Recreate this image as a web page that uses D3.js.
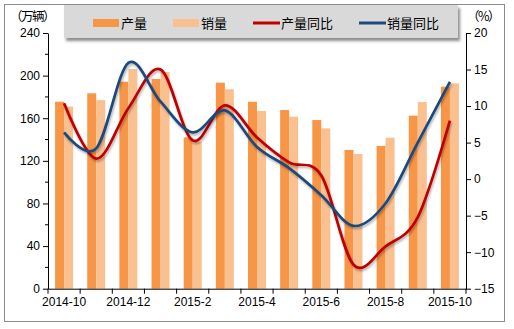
<!DOCTYPE html>
<html>
<head>
<meta charset="utf-8">
<script src="https://cdn.jsdelivr.net/npm/d3@7/dist/d3.min.js"></script>
<style>
  html, body { margin: 0; padding: 0; background: #fff; }
  svg { display: block; font-family: Arial, "Liberation Sans", "Noto Sans CJK SC", sans-serif; }
</style>
</head>
<body>
<svg id="chart" width="514" height="329"></svg>
<script>
// Monthly auto output / sales (10k units) and year-on-year growth (%)
const months = ["2014-10","2014-11","2014-12","2015-1","2015-2","2015-3","2015-4",
                "2015-5","2015-6","2015-7","2015-8","2015-9","2015-10"];
const output = [175.5, 183.4, 194.3, 196.8, 142, 193.4, 175.5, 167.7, 158.3, 130.2, 134, 162.4, 189.6];
const sales  = [171, 177, 206.2, 203.4, 138, 187.2, 166.8, 161.5, 150.5, 126.4, 141.7, 175.2, 192.8];
const outputYoY = [10.4, 2.8, 9.7, 15.0, 5.3, 10.1, 5.7, 2.3, 0.5, -11.7, -9.2, -5.2, 8.0];
const salesYoY  = [6.4, 4.2, 15.9, 10.6, 6.4, 9.4, 4.4, 1.5, -2.2, -6.4, -3.3, 5.0, 13.3];
const leftTicks = [0, 40, 80, 120, 160, 200, 240];
const rightTicks = [-15, -10, -5, 0, 5, 10, 15, 20];
const xLabels = ["2014-10","2014-12","2015-2","2015-4","2015-6","2015-8","2015-10"];

const svg = d3.select("#chart");
const m = { left: 48, right: 466, top: 33, bottom: 288.7 };

const defs = svg.append("defs");
defs.append("filter").attr("id", "lineShadow")
  .attr("x", "-10%").attr("y", "-10%").attr("width", "120%").attr("height", "130%")
  .append("feDropShadow")
  .attr("dx", 1).attr("dy", 2).attr("stdDeviation", 1.2)
  .attr("flood-color", "#000").attr("flood-opacity", 0.3);
defs.append("filter").attr("id", "boxShadow")
  .attr("x", "-5%").attr("y", "-20%").attr("width", "110%").attr("height", "160%")
  .append("feDropShadow")
  .attr("dx", 2).attr("dy", 3).attr("stdDeviation", 1.5)
  .attr("flood-color", "#000").attr("flood-opacity", 0.45);

// outer frame
svg.append("rect").attr("x", 4.5).attr("y", 4.5).attr("width", 500).attr("height", 317)
  .attr("fill", "#fff").attr("stroke", "#8c8c8c").attr("stroke-width", 1);

const x = d3.scaleBand().domain(months).range([m.left, m.right]);
const yL = d3.scaleLinear().domain([0, 240]).range([m.bottom, m.top]);
const yR = d3.scaleLinear().domain([-15, 20]).range([m.bottom, m.top]);

// bars
const bw = 9;
const g = svg.append("g");
g.selectAll("rect.out").data(output).join("rect")
  .attr("x", (d, i) => x(months[i]) + x.bandwidth() / 2 - bw)
  .attr("y", d => yL(d))
  .attr("width", bw).attr("height", d => yL(0) - yL(d))
  .attr("fill", "#F79646");
g.selectAll("rect.sal").data(sales).join("rect")
  .attr("x", (d, i) => x(months[i]) + x.bandwidth() / 2)
  .attr("y", d => yL(d))
  .attr("width", bw).attr("height", d => yL(0) - yL(d))
  .attr("fill", "#FAC090");

// smoothed YoY lines
const line = d3.line()
  .x((d, i) => x(months[i]) + x.bandwidth() / 2)
  .y(d => yR(d))
  .curve(d3.curveCatmullRom.alpha(0));
svg.append("path").datum(outputYoY).attr("d", line)
  .attr("fill", "none").attr("stroke", "#C00000").attr("stroke-width", 2.7)
  .attr("filter", "url(#lineShadow)");
svg.append("path").datum(salesYoY).attr("d", line)
  .attr("fill", "none").attr("stroke", "#1F497D").attr("stroke-width", 2.7)
  .attr("filter", "url(#lineShadow)");

// left axis
const axL = svg.append("g").attr("transform", `translate(${m.left},0)`)
  .call(d3.axisLeft(yL).tickValues(leftTicks).tickSize(5).tickSizeOuter(0).tickPadding(3));
axL.selectAll("line.minor").data(d3.range(20, 240, 40)).join("line")
  .attr("x1", -3).attr("x2", 0).attr("y1", d => yL(d)).attr("y2", d => yL(d))
  .attr("stroke", "#000");

// right axis
const axR = svg.append("g").attr("transform", `translate(${m.right},0)`)
  .call(d3.axisRight(yR).tickValues(rightTicks).tickSize(5).tickSizeOuter(0).tickPadding(3));

// bottom axis
const axB = svg.append("g").attr("transform", `translate(0,${m.bottom})`)
  .call(d3.axisBottom(x).tickValues(xLabels).tickSize(0).tickPadding(9).tickSizeOuter(0));
axB.selectAll("line.cat").data(months.concat(["end"])).join("line")
  .attr("class", "cat")
  .attr("x1", (d, i) => m.left + i * x.step()).attr("x2", (d, i) => m.left + i * x.step())
  .attr("y1", 0).attr("y2", 5).attr("stroke", "#000");

[axL, axR, axB].forEach(a => {
  a.select(".domain").attr("stroke", "#000");
  a.selectAll(".tick line").attr("stroke", "#000");
  a.selectAll("text").attr("font-size", 12).attr("fill", "#000")
    .attr("font-family", "Arial, 'Liberation Sans', sans-serif");
});

// unit labels
svg.append("text").attr("x", 10).attr("y", 21).attr("font-size", 12.5)
  .attr("font-family", "'Noto Sans CJK SC', sans-serif")
  .attr("letter-spacing", -1.5).text("（万辆）");
svg.append("text").attr("x", 467).attr("y", 21).attr("font-size", 12.5)
  .attr("font-family", "'Noto Sans CJK SC', sans-serif")
  .attr("letter-spacing", -1.5).text("（%）");

// legend
const lg = svg.append("g");
lg.append("rect").attr("x", 64).attr("y", 5).attr("width", 394).attr("height", 33)
  .attr("fill", "#d9d9d9").attr("filter", "url(#boxShadow)");
const items = [
  { name: "产量", type: "bar", color: "#F79646", x: 93 },
  { name: "销量", type: "bar", color: "#FAC090", x: 173 },
  { name: "产量同比", type: "line", color: "#C00000", x: 253 },
  { name: "销量同比", type: "line", color: "#1F497D", x: 359 }
];
items.forEach(it => {
  if (it.type === "bar") {
    lg.append("rect").attr("x", it.x).attr("y", 19).attr("width", 26).attr("height", 8).attr("fill", it.color);
  } else {
    lg.append("line").attr("x1", it.x).attr("x2", it.x + 27).attr("y1", 23).attr("y2", 23)
      .attr("stroke", it.color).attr("stroke-width", 3);
  }
  lg.append("text").attr("x", it.x + 28).attr("y", 28).attr("font-size", 13)
    .attr("font-family", "'Noto Sans CJK SC', sans-serif").text(it.name);
});
</script>
</body>
</html>
